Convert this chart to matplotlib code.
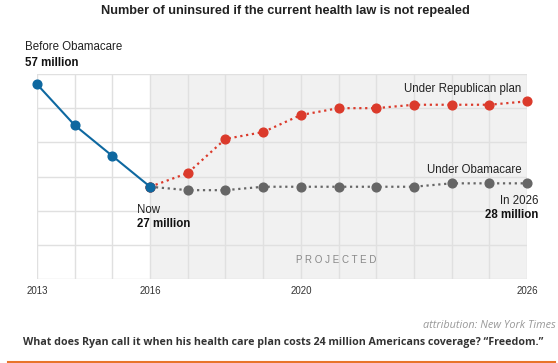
import matplotlib
matplotlib.use('Agg')
import matplotlib.pyplot as plt
from matplotlib.lines import Line2D

# data
years_before = [2013, 2014, 2015, 2016]
uninsured_before = [57, 45, 36, 27]
years_proj = [2016, 2017, 2018, 2019, 2020, 2021, 2022, 2023, 2024, 2025, 2026]
republican_plan = [27, 31, 41, 43, 48, 50, 50, 51, 51, 51, 52]
obamacare = [27, 26, 26, 27, 27, 27, 27, 27, 28, 28, 28]
tick_years = [2013, 2016, 2020, 2026]

BLUE = '#0e68a0'
RED = '#db3a2b'
GRAY = '#666666'
GRID = '#e0e0e0'

plt.rcParams['font.family'] = ['Liberation Sans', 'DejaVu Sans']

fig = plt.figure(figsize=(5.58, 3.63), dpi=100)
ax = fig.add_axes([37/558, (363-279)/363, 490/558, 205/363])
ax.set_xlim(2013, 2026)
ax.set_ylim(0, 60)

ax.axvspan(2016, 2026, color='#f1f1f1', zorder=0, lw=0)
for y in range(0, 61, 10):
    ax.axhline(y, color=GRID, lw=1.0, zorder=1)
for x in range(2013, 2027):
    ax.axvline(x, color=GRID, lw=1.0, zorder=1)

ax.plot(years_proj, obamacare, ':', color=GRAY, lw=1.6, marker='o', ms=6.3, zorder=3, clip_on=False)
ax.plot(years_proj, republican_plan, ':', color=RED, lw=1.6, marker='o', ms=6.3, zorder=3, clip_on=False)
ax.plot(years_before, uninsured_before, '-', color=BLUE, lw=1.5, marker='o', ms=6.3, zorder=4, clip_on=False)

for s in ax.spines.values():
    s.set_visible(False)
ax.set_yticks([])
ax.set_xticks(tick_years)
ax.set_xticklabels([str(t) for t in tick_years], fontsize=7, color='#333333')
ax.tick_params(axis='x', length=0, pad=5)

# annotations
fig.text(25/558, 1-47/363, 'Before Obamacare', fontsize=8.3, color='#222222', va='center')
fig.text(25/558, 1-63/363, '57 million', fontsize=8.3, fontweight='bold', color='#111111', va='center')
ax.text(2015.65, 20.3, 'Now', fontsize=8.3, color='#222222', va='center')
ax.text(2015.65, 16.0, '27 million', fontsize=8.3, fontweight='bold', color='#111111', va='center')
ax.text(2025.85, 55.5, 'Under Republican plan', fontsize=8.3, color='#222222', ha='right', va='center')
ax.text(2025.85, 32.0, 'Under Obamacare', fontsize=8.3, color='#222222', ha='right', va='center')
ax.text(2026.3, 22.8, 'In 2026', fontsize=8.3, color='#222222', ha='right', va='center')
ax.text(2026.3, 18.8, '28 million', fontsize=8.3, fontweight='bold', color='#111111', ha='right', va='center')
ax.text(2020.93, 5.6, 'P R O J E C T E D', fontsize=7, color='#888888', ha='center', va='center')

fig.text(285/558, 1-11/363, 'Number of uninsured if the current health law is not repealed',
         fontsize=9.2, fontweight='bold', color='#222222', ha='center', va='center')
fig.text(556/558, 1-325/363, 'attribution: New York Times', fontsize=7.8, style='italic',
         color='#999999', ha='right', va='center', family=['Open Sans', 'DejaVu Sans'])
fig.text(23/558, 1-342/363, 'What does Ryan call it when his health care plan costs 24 million Americans coverage? \u201cFreedom.\u201d',
         fontsize=7.65, fontweight='bold', color='#333333', va='center', family=['Open Sans', 'DejaVu Sans'])
fig.add_artist(Line2D([8/558, 555/558], [1-362/363, 1-362/363], color='#e8742a', lw=1.5))

fig.savefig('out.png', dpi=100)
